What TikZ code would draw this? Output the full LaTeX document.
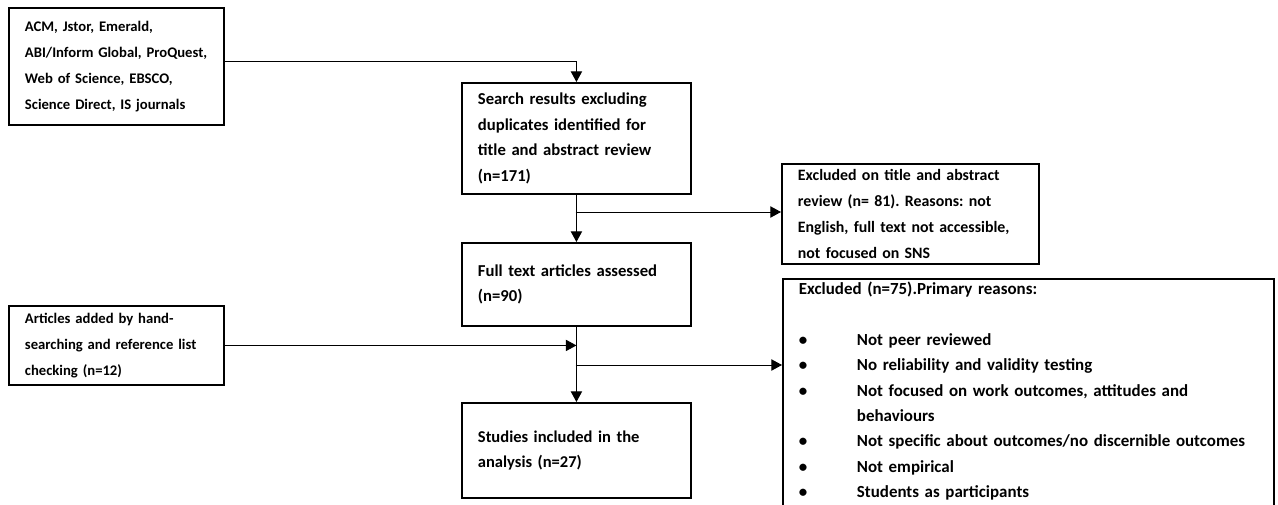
\documentclass[tikz,border=0pt]{standalone}
\usepackage{fontspec}
\setmainfont{Carlito}
\usetikzlibrary{arrows.meta}

\begin{document}
\begin{tikzpicture}[x=0.75pt,y=-0.75pt,
  box/.style={draw,line width=1.4pt,anchor=north west,align=left,inner xsep=12pt,inner ysep=0pt,txt=11},
  txt/.style={font=\fontsize{#1}{19.4}\selectfont\bfseries\frenchspacing},
  link/.style={line width=0.7pt,-{Triangle[length=8pt,width=8.5pt]}}]
\useasboundingbox (0,0) rectangle (1278,504);

\node[box,text width=137.25pt,minimum height=87.75pt] (src) at (8,7)
  {ACM, Jstor, Emerald,\\ABI/Inform Global, ProQuest,\\Web of Science, EBSCO,\\Science Direct, IS journals};
\node[box,txt=12.5,text width=147.75pt,minimum height=83.25pt] (search) at (461,82)
  {Search results excluding\\duplicates identified for\\title and abstract review\\(n=171)};
\node[box,txt=11.9,text width=168.75pt,minimum height=75pt] (excl1) at (781,163)
  {Excluded on title and abstract\\review (n= 81). Reasons: not\\English, full text not accessible,\\not focused on SNS};
\node[box,txt=12.5,text width=147.75pt,minimum height=62.25pt] (full) at (461,242)
  {Full text articles assessed\\(n=90)};
\node[box,text width=137.25pt,minimum height=59.25pt] (hand) at (8,305)
  {Articles added by hand-\\searching and reference list\\checking (n=12)};
\node[box,txt=12.4,text width=147.75pt,minimum height=71.25pt] (studies) at (461,402)
  {Studies included in the\\analysis (n=27)};
\node[box,text width=344.25pt,inner ysep=2pt,
  font=\fontsize{12.7}{19.1}\selectfont\bfseries\frenchspacing] (excl2) at (782,278)
  {Excluded (n=75).Primary reasons:\\\mbox{}\\
   \makebox[43.5pt][l]{\textbullet}Not peer reviewed\\
   \makebox[43.5pt][l]{\textbullet}No reliability and validity testing\\
   \makebox[43.5pt][l]{\textbullet}Not focused on work outcomes, attitudes and\\
   \hspace*{43.5pt}behaviours\\
   \makebox[43.5pt][l]{\textbullet}Not specific about outcomes/no discernible outcomes\\
   \makebox[43.5pt][l]{\textbullet}Not empirical\\
   \makebox[43.5pt][l]{\textbullet}Students as participants\\\mbox{}};

\coordinate (b1) at (575.5,212);
\coordinate (b2) at (575.5,365);

\draw[link] ([yshift=4pt]src.east) -| (search.north);
\draw[link] (search.south) -- (full.north);
\draw[link] (b1) -- (b1 -| excl1.west);
\draw[link] (full.south) -- (studies.north);
\draw[link] (hand.east) -- (hand.east -| full.south);
\draw[link] (b2) -- (b2 -| excl2.west);

\end{tikzpicture}
\end{document}
